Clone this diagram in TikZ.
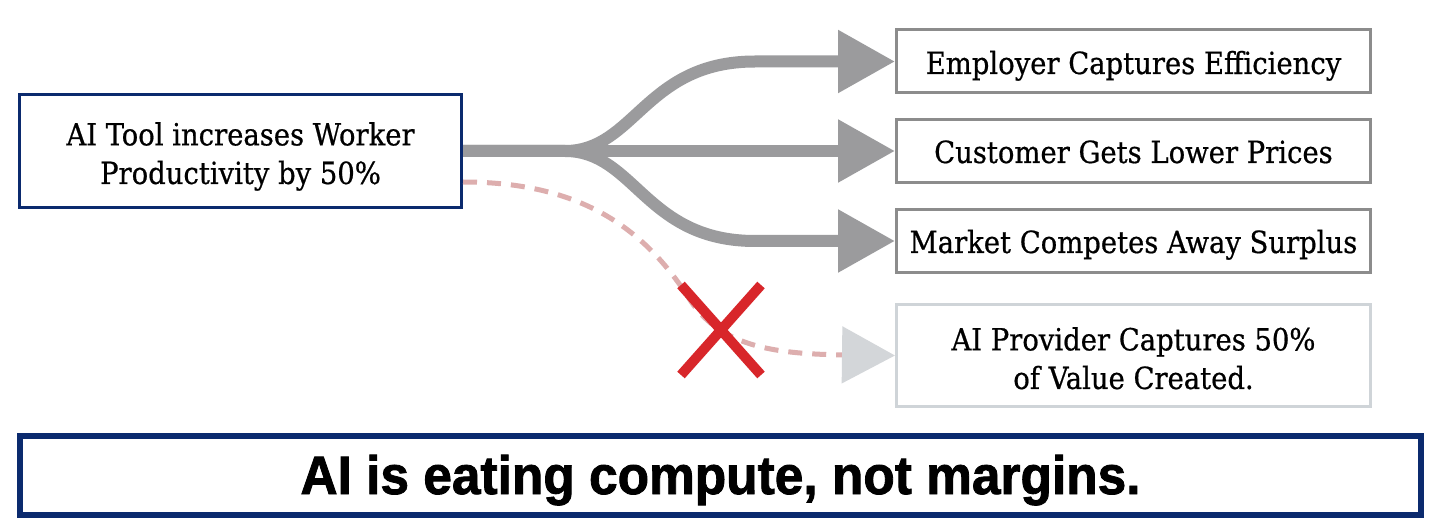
\documentclass[tikz,border=0pt]{standalone}
\usepackage{fontspec}
\usepackage{graphicx}
\setmainfont{DejaVu Serif Condensed}[FakeBold=0.6]
\newfontfamily\bannerfont{Liberation Sans}[BoldFeatures={FakeBold=1.6}]
\usetikzlibrary{arrows.meta,calc}
\definecolor{navy}{HTML}{0B2A6E}
\definecolor{arrowgray}{HTML}{9B9B9D}
\definecolor{boxgray}{HTML}{8C8C8C}
\definecolor{lightbox}{HTML}{CFD4D8}
\definecolor{dashpink}{HTML}{DDAEAE}
\definecolor{xred}{HTML}{D8262A}
\definecolor{headgray}{HTML}{D3D6D9}
\tikzset{
  srcbox/.style={draw=navy, line width=3pt, rectangle, inner sep=0pt, minimum width=442pt, minimum height=113pt},
  outbox/.style={draw=boxgray, line width=3pt, rectangle, inner sep=0pt, minimum width=474pt, minimum height=63pt},
  faintbox/.style={draw=lightbox, line width=3pt, rectangle, inner sep=0pt, minimum width=474pt, minimum height=102pt},
  bannerbox/.style={draw=navy, line width=6pt, rectangle, inner sep=0pt, minimum width=1401pt, minimum height=79pt},
  serif/.style={inner sep=0pt, font=\fontsize{30.5}{38.6}\selectfont, align=center},
  bigarrow/.style={draw=arrowgray, line width=12pt, -{Triangle[length=57pt,width=60pt]}},
  lostarrow/.style={draw=dashpink, line width=5pt, dash pattern=on 14pt off 10pt,
     -{Triangle[length=53pt,width=56pt,fill=headgray,color=headgray]}},
  cross/.style={draw=xred, line width=10pt},
}
\begin{document}
\begin{tikzpicture}[x=1pt,y=-1pt]
\useasboundingbox (0,0) rectangle (1456,529);
\fill[white] (0,0) rectangle (1456,529);

\node[srcbox] (src) at (240.5,151) {};
\node[outbox] (b1) at (1133.5,61.5) {};
\node[outbox] (b2) at (1133.5,151) {};
\node[outbox] (b3) at (1133.5,241) {};
\node[faintbox] (b4) at (1133.5,355.5) {};
\node[bannerbox] (banner) at (720.5,475.5) {};

\node[serif, anchor=north] (srctext) at (240.5,122) {AI Tool increases Worker\\Productivity by 50\%};
\node[serif, anchor=base] (t1) at (1133.5,74) {Employer Captures Efficiency};
\node[serif, anchor=base] (t2) at (1133.5,163) {Customer Gets Lower Prices};
\node[serif, anchor=base] (t3) at (1133.5,253) {Market Competes Away Surplus};
\node[serif, anchor=north] (t4) at (1133.5,327) {AI Provider Captures 50\%\\of Value Created.};
\node[inner sep=0pt, anchor=base, font=\bannerfont\bfseries\fontsize{54}{60}\selectfont] (bannertext) at ($(banner.center)+(0,18.5)$) {\resizebox{840pt}{\height}{AI is eating compute, not margins.}};

\draw[lostarrow] ($(src.east)+(0,31)$) .. controls (570,182) and (640,220) .. (690,300) .. controls (720,345) and (770,354) .. (b4.west);

\draw[bigarrow] (src.east) -- (565,151) .. controls (635,151) and (645,61.5) .. (755,61.5) -- (b1.west);
\draw[bigarrow] (src.east) -- (b2.west);
\draw[bigarrow] (src.east) -- (565,151) .. controls (635,151) and (645,241) .. (755,241) -- (b3.west);

\draw[cross] (681,285) -- (761,375);
\draw[cross] (681,375) -- (761,285);
\end{tikzpicture}
\end{document}
